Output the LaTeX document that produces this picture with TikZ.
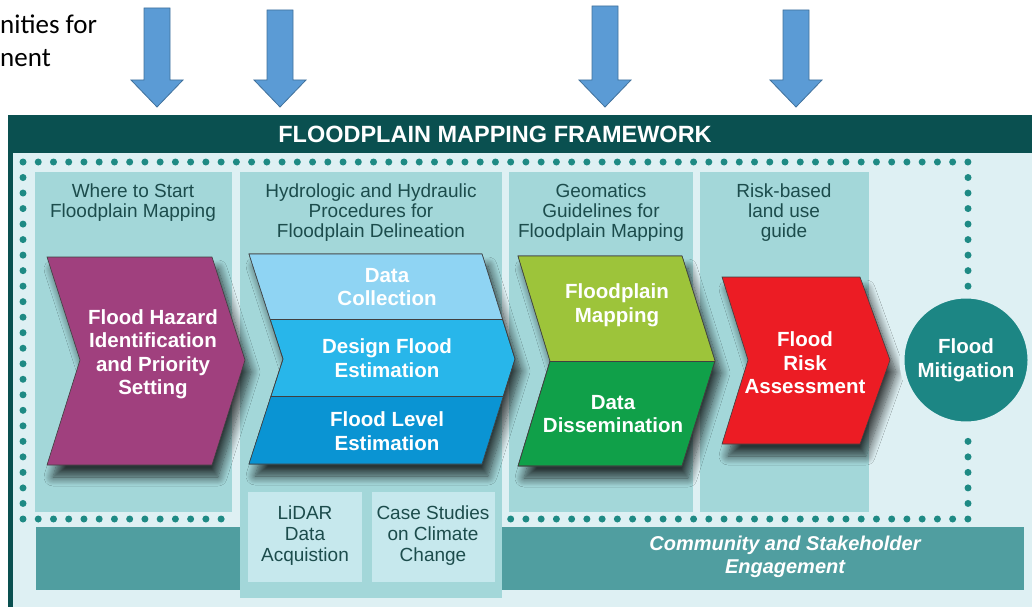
\documentclass[tikz,border=0pt]{standalone}
\usepackage{fontspec}
\setmainfont{Liberation Sans}
\newfontfamily\calibri{Carlito}
\usepackage{tikz}
\usetikzlibrary{shadows.blur}
\definecolor{frameteal}{RGB}{10,80,80}
\definecolor{framebg}{RGB}{222,240,243}
\definecolor{colbg}{RGB}{163,215,217}
\definecolor{dotteal}{RGB}{30,138,132}
\definecolor{commteal}{RGB}{80,158,160}
\definecolor{subbox}{RGB}{198,232,237}
\definecolor{headtxt}{RGB}{28,76,76}
\definecolor{hazmag}{RGB}{160,64,126}
\definecolor{bluetop}{RGB}{143,212,243}
\definecolor{bluemid}{RGB}{40,182,234}
\definecolor{bluebot}{RGB}{10,148,211}
\definecolor{limegr}{RGB}{157,196,58}
\definecolor{darkgr}{RGB}{16,160,73}
\definecolor{riskred}{RGB}{236,28,36}
\definecolor{mitteal}{RGB}{28,134,132}
\definecolor{arrowblue}{RGB}{91,155,213}
\definecolor{arrowedge}{RGB}{65,113,156}
\definecolor{shadowc}{RGB}{40,70,75}
\tikzset{
  panel/.style={fill=colbg},
  chevron/.style={draw=black!75, line width=0.6pt,
    blur shadow={shadow xshift=6pt, shadow yshift=-12pt,
      shadow blur radius=9pt, shadow opacity=75, shadow blur steps=12}},
  edge/.style={draw=black!75, line width=0.6pt},
  headtext/.style={text=headtxt, align=center, inner sep=0pt,
    font=\fontsize{19}{20}\selectfont},
  chevtext/.style={text=white, align=center, inner sep=0pt,
    font=\bfseries\fontsize{20.5}{23.5}\selectfont},
  subtext/.style={text=headtxt, align=center, inner sep=0pt,
    font=\fontsize{19}{21}\selectfont},
  dotmark/.style={fill=dotteal},
  downarrow/.style={fill=arrowblue, draw=arrowedge, line width=0.8pt}
}
% chevron outlines
\def\hazardpath{(47,257) -- (212,257) -- (245,360) -- (212,465) -- (47,465) -- (80,360) -- cycle}
\def\hydropath{(249,254) -- (482,254) -- (515,359) -- (482,464) -- (249,464) -- (283,359) -- cycle}
\def\geopath{(518,256) -- (682,256) -- (715,361) -- (682,466) -- (518,466) -- (550,361) -- cycle}
\def\riskpath{(722,277) -- (860,277) -- (890,360) -- (860,444) -- (722,444) -- (748,360) -- cycle}

\begin{document}
\begin{tikzpicture}[x=1pt, y=-1pt]
  \useasboundingbox (0,0) rectangle (1032,607);

  % text cut at the left edge
  \node[anchor=west, align=left, inner sep=0pt, font=\calibri\fontsize{27}{33}\selectfont] (intro) at (0,41) {nities for\\nent};

  % block arrows into the frame
  \foreach \ax/\at in {157/8, 280/10, 605/6, 796/10} {
    \draw[downarrow] ({\ax-13},\at) -- ({\ax+13},\at) -- ({\ax+13},80) -- ({\ax+26},80)
      -- (\ax,107) -- ({\ax-26},80) -- ({\ax-13},80) -- cycle;
  }

  % frame
  \fill[framebg] (8,115) rectangle (1032,607);
  \fill[frameteal] (8,115) rectangle (1032,153);
  \fill[frameteal] (8,115) rectangle (13,607);
  \node[text=white, font=\bfseries\fontsize{23.5}{25}\selectfont] (title) at (495,134) {FLOODPLAIN MAPPING FRAMEWORK};

  % column panels
  \fill[panel] (35,172) rectangle (232,512);
  \fill[panel] (509,172) rectangle (693,512);
  \fill[panel] (700,172) rectangle (869,512);

  % dotted border
  \foreach \i in {0,...,62}
    \fill[dotmark] ({23+\i*15.24},162) circle (3.5pt);
  \foreach \i in {0,...,13,32,33,...,62}
    \fill[dotmark] ({23+\i*15.24},519) circle (3.5pt);
  \foreach \j in {1,...,22}
    \fill[dotmark] (23,{162+\j*15.52}) circle (3.5pt);
  \foreach \j in {1,...,8,18,19,...,22}
    \fill[dotmark] (968,{162+\j*15.52}) circle (3.5pt);

  % engagement bar and the hydro column over it
  \fill[commteal] (36,527) rectangle (1024,590);
  \node[text=white, align=center, font=\bfseries\itshape\fontsize{20}{23}\selectfont] (engage) at (785,557) {Community and Stakeholder\\Engagement};
  \fill[panel] (240,172) rectangle (502,598);
  \fill[subbox] (248,492) rectangle (362,582);
  \fill[subbox] (372,492) rectangle (495,582);
  \node[subtext] (lidar) at (305,536) {LiDAR\\Data\\Acquistion};
  \node[subtext] (climate) at (433,536) {Case Studies\\on Climate\\Change};

  % column headings
  \node[headtext] (start) at (133,203) {Where to Start\\Floodplain Mapping};
  \node[headtext] (hydro) at (371,213) {Hydrologic and Hydraulic\\Procedures for\\Floodplain Delineation};
  \node[headtext] (geo) at (601,213) {Geomatics\\Guidelines for\\Floodplain Mapping};
  \node[headtext] (landuse) at (784,213) {Risk-based\\land use\\guide};

  % flood hazard chevron
  \draw[chevron, fill=hazmag] \hazardpath;
  \node[chevtext] (hazard) at (153,354) {Flood Hazard\\Identification\\and Priority\\Setting};

  % hydrologic chevron, three bands
  \draw[chevron, fill=bluemid] \hydropath;
  \begin{scope}
    \clip \hydropath;
    \fill[bluetop] (240,250) rectangle (520,319);
    \fill[bluebot] (240,396) rectangle (520,470);
    \draw[edge] (240,319) -- (520,319) (240,396) -- (520,396);
  \end{scope}
  \draw[edge] \hydropath;
  \node[chevtext] (collect) at (387,287) {Data\\Collection};
  \node[chevtext] (design) at (387,358) {Design Flood\\Estimation};
  \node[chevtext] (level) at (387,431) {Flood Level\\Estimation};

  % geomatics chevron, two bands
  \draw[chevron, fill=darkgr] \geopath;
  \begin{scope}
    \clip \geopath;
    \fill[limegr] (510,250) rectangle (720,361);
    \draw[edge] (510,361) -- (720,361);
  \end{scope}
  \draw[edge] \geopath;
  \node[chevtext] (mapping) at (617,305) {Floodplain\\Mapping};
  \node[chevtext] (dissem) at (613,414) {Data\\Dissemination};

  % risk chevron
  \draw[chevron, fill=riskred] \riskpath;
  \node[chevtext] (risk) at (805,363) {Flood\\Risk\\Assessment};

  % mitigation
  \node[circle, fill=mitteal, draw=framebg, line width=5pt, minimum size=128pt, inner sep=0pt,
    text=white, align=center, font=\bfseries\fontsize{20.5}{23.5}\selectfont] (mitig) at (966,360) {Flood\\Mitigation};
\end{tikzpicture}
\end{document}
